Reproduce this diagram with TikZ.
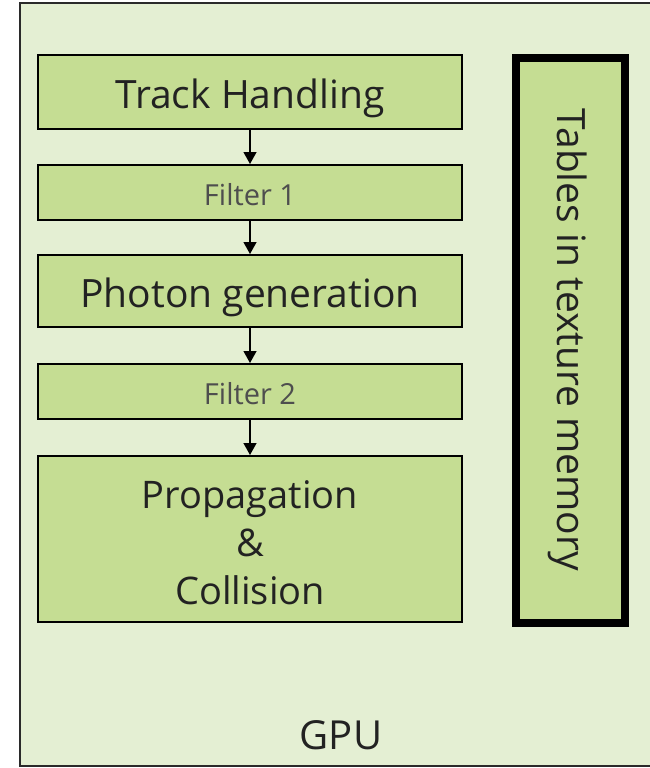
\documentclass[tikz,border=0pt]{standalone}
\usepackage{fontspec}
\setmainfont{Open Sans}
\usetikzlibrary{arrows.meta}
\definecolor{bgreen}{HTML}{E4EFD3}
\definecolor{boxgreen}{HTML}{C5DD93}
\definecolor{edgegray}{HTML}{2A2A2A}
\definecolor{txt}{HTML}{222222}
\definecolor{ftxt}{HTML}{4E4E4E}
\begin{document}
\begin{tikzpicture}[x=1pt,y=-1pt,
  stagebox/.style={draw=black,line width=2pt,fill=boxgreen,minimum width=424pt,inner sep=0pt,text=txt,font=\fontsize{39}{48}\selectfont,align=center,text height=36pt,text depth=4pt},
  filterbox/.style={stagebox,text=ftxt,font=\fontsize{29}{34}\selectfont,text height=27pt,text depth=2pt},
  flow/.style={line width=1.3pt,-{Triangle[length=12pt,width=13pt]}}]
\useasboundingbox (0,0) rectangle (649,768);
\fill[bgreen] (20,3) rectangle (670,766);
\draw[edgegray,line width=2pt] (670,3) -- (20,3) -- (20,766) -- (670,766);
\node[stagebox,minimum height=74pt] (track) at (250,92) {Track Handling};
\node[filterbox,minimum height=55pt] (f1) at (250,192.5) {Filter 1};
\node[stagebox,minimum height=72pt] (photon) at (250,291) {Photon generation};
\node[filterbox,minimum height=55pt] (f2) at (250,391.5) {Filter 2};
\node[draw=black,line width=2pt,fill=boxgreen,minimum width=424pt,minimum height=166pt,inner sep=0pt] (prop) at (250,539) {};
\node[text=txt,font=\fontsize{38}{48}\selectfont,align=center] (propt) at (250,543) {Propagation\\\&\\Collision};
\node[draw=black,line width=8pt,fill=boxgreen,minimum width=109pt,minimum height=565pt,inner sep=0pt] (tab) at (570.5,340.5) {};
\node[rotate=-90,text=txt,font=\fontsize{39}{46}\selectfont] (tabt) at (568,340) {Tables in texture memory};
\node[text=txt,font=\fontsize{40}{48}\selectfont] (gpu) at (341,735) {GPU};
\draw[flow] (track) -- (f1);
\draw[flow] (f1) -- (photon);
\draw[flow] (photon) -- (f2);
\draw[flow] (f2) -- (prop);
\end{tikzpicture}
\end{document}
